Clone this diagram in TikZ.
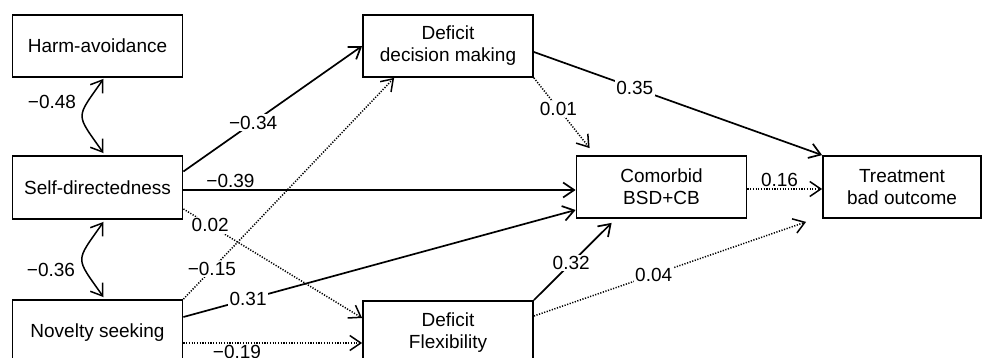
\documentclass[tikz,border=0pt]{standalone}
\usepackage{fontspec}
\setmainfont{Liberation Sans}
\usetikzlibrary{arrows.meta,calc}
\begin{document}
\begin{tikzpicture}[x=1pt,y=-1pt,
 box/.style={draw,line width=1.8pt,minimum width=170pt,minimum height=62pt,align=center,font=\fontsize{19}{22}\selectfont,inner sep=0pt},
 solidarr/.style={line width=1.7pt,-{Straight Barb[length=11pt,width=15pt]}},
 dotarr/.style={line width=1.5pt,dash pattern=on 1.2pt off 1.5pt,-{Straight Barb[length=11pt,width=15pt]}},
 curvarr/.style={line width=1.5pt,{Straight Barb[length=11pt,width=15pt]}-{Straight Barb[length=11pt,width=15pt]}},
 lab/.style={fill=white,inner sep=1.5pt,font=\fontsize{19}{22}\selectfont},
 plainlab/.style={inner sep=1.5pt,font=\fontsize{19}{22}\selectfont},
]
\useasboundingbox (0,0) rectangle (982,358);
\node[box] (ha) at (97.5,46) {Harm-avoidance};
\node[box,minimum height=63pt] (sd) at (97.5,187.5) {Self-directedness};
\node[box,minimum height=66pt] (ns) at (97.5,333) {Novelty seeking};
\node[box] (ddm) at (448,46) {Deficit\\decision making};
\node[box] (cb) at (661.5,187) {Comorbid\\BSD+CB};
\node[box,minimum width=158pt] (tbo) at (902,187) {Treatment\\bad outcome};
\node[box,minimum height=64pt] (flex) at (448,333) {Deficit\\Flexibility};

\draw[curvarr] ($(ha.south)+(6,1)$) to[out=235,in=125,looseness=1.7] ($(sd.north)+(6,-2)$);
\node[plainlab] (l48) at (52,102) {−0.48};
\draw[curvarr] ($(sd.south)+(6,2)$) to[out=235,in=125,looseness=1.7] ($(ns.north)+(6,-2)$);
\node[plainlab] (l36) at (51,270) {−0.36};

\draw[solidarr] ($(sd.east)+(0,-16)$) -- node[lab,pos=0.39]{−0.34} (ddm.west);
\draw[solidarr] ($(sd.east)+(0,2.5)$) -- node[plainlab,pos=0.12,above]{−0.39} ($(cb.west)+(0,3)$);
\draw[dotarr] ($(sd.east)+(0,21.5)$) -- node[lab,pos=0.15]{0.02} ($(flex.west)+(0,-15)$);
\draw[dotarr] (ns.north east) -- node[lab,pos=0.135]{−0.15} ($(ddm.south west)+(32,0)$);
\draw[solidarr] ($(ns.east)+(0,-16)$) -- node[lab,pos=0.165]{0.31} ($(cb.west)+(0,23)$);
\draw[dotarr] ($(ns.east)+(0,10)$) -- node[plainlab,pos=0.3,below]{−0.19} ($(flex.west)+(0,10)$);
\draw[dotarr] (ddm.south east) -- node[lab,pos=0.44]{0.01} ($(cb.north west)+(14,-7)$);
\draw[solidarr] ($(ddm.east)+(0,6)$) -- node[lab,pos=0.35]{0.35} (tbo.north west);
\draw[dotarr] ($(cb.east)+(0,2)$) -- node[plainlab,pos=0.43,above]{0.16} ($(tbo.west)+(0,2)$);
\draw[solidarr] (flex.north east) -- node[lab,pos=0.48]{0.32} ($(cb.south west)+(36,4)$);
\draw[dotarr] ($(flex.east)+(0,-17)$) -- node[lab,pos=0.44]{0.04} ($(tbo.south west)+(-16,3)$);
\end{tikzpicture}
\end{document}
